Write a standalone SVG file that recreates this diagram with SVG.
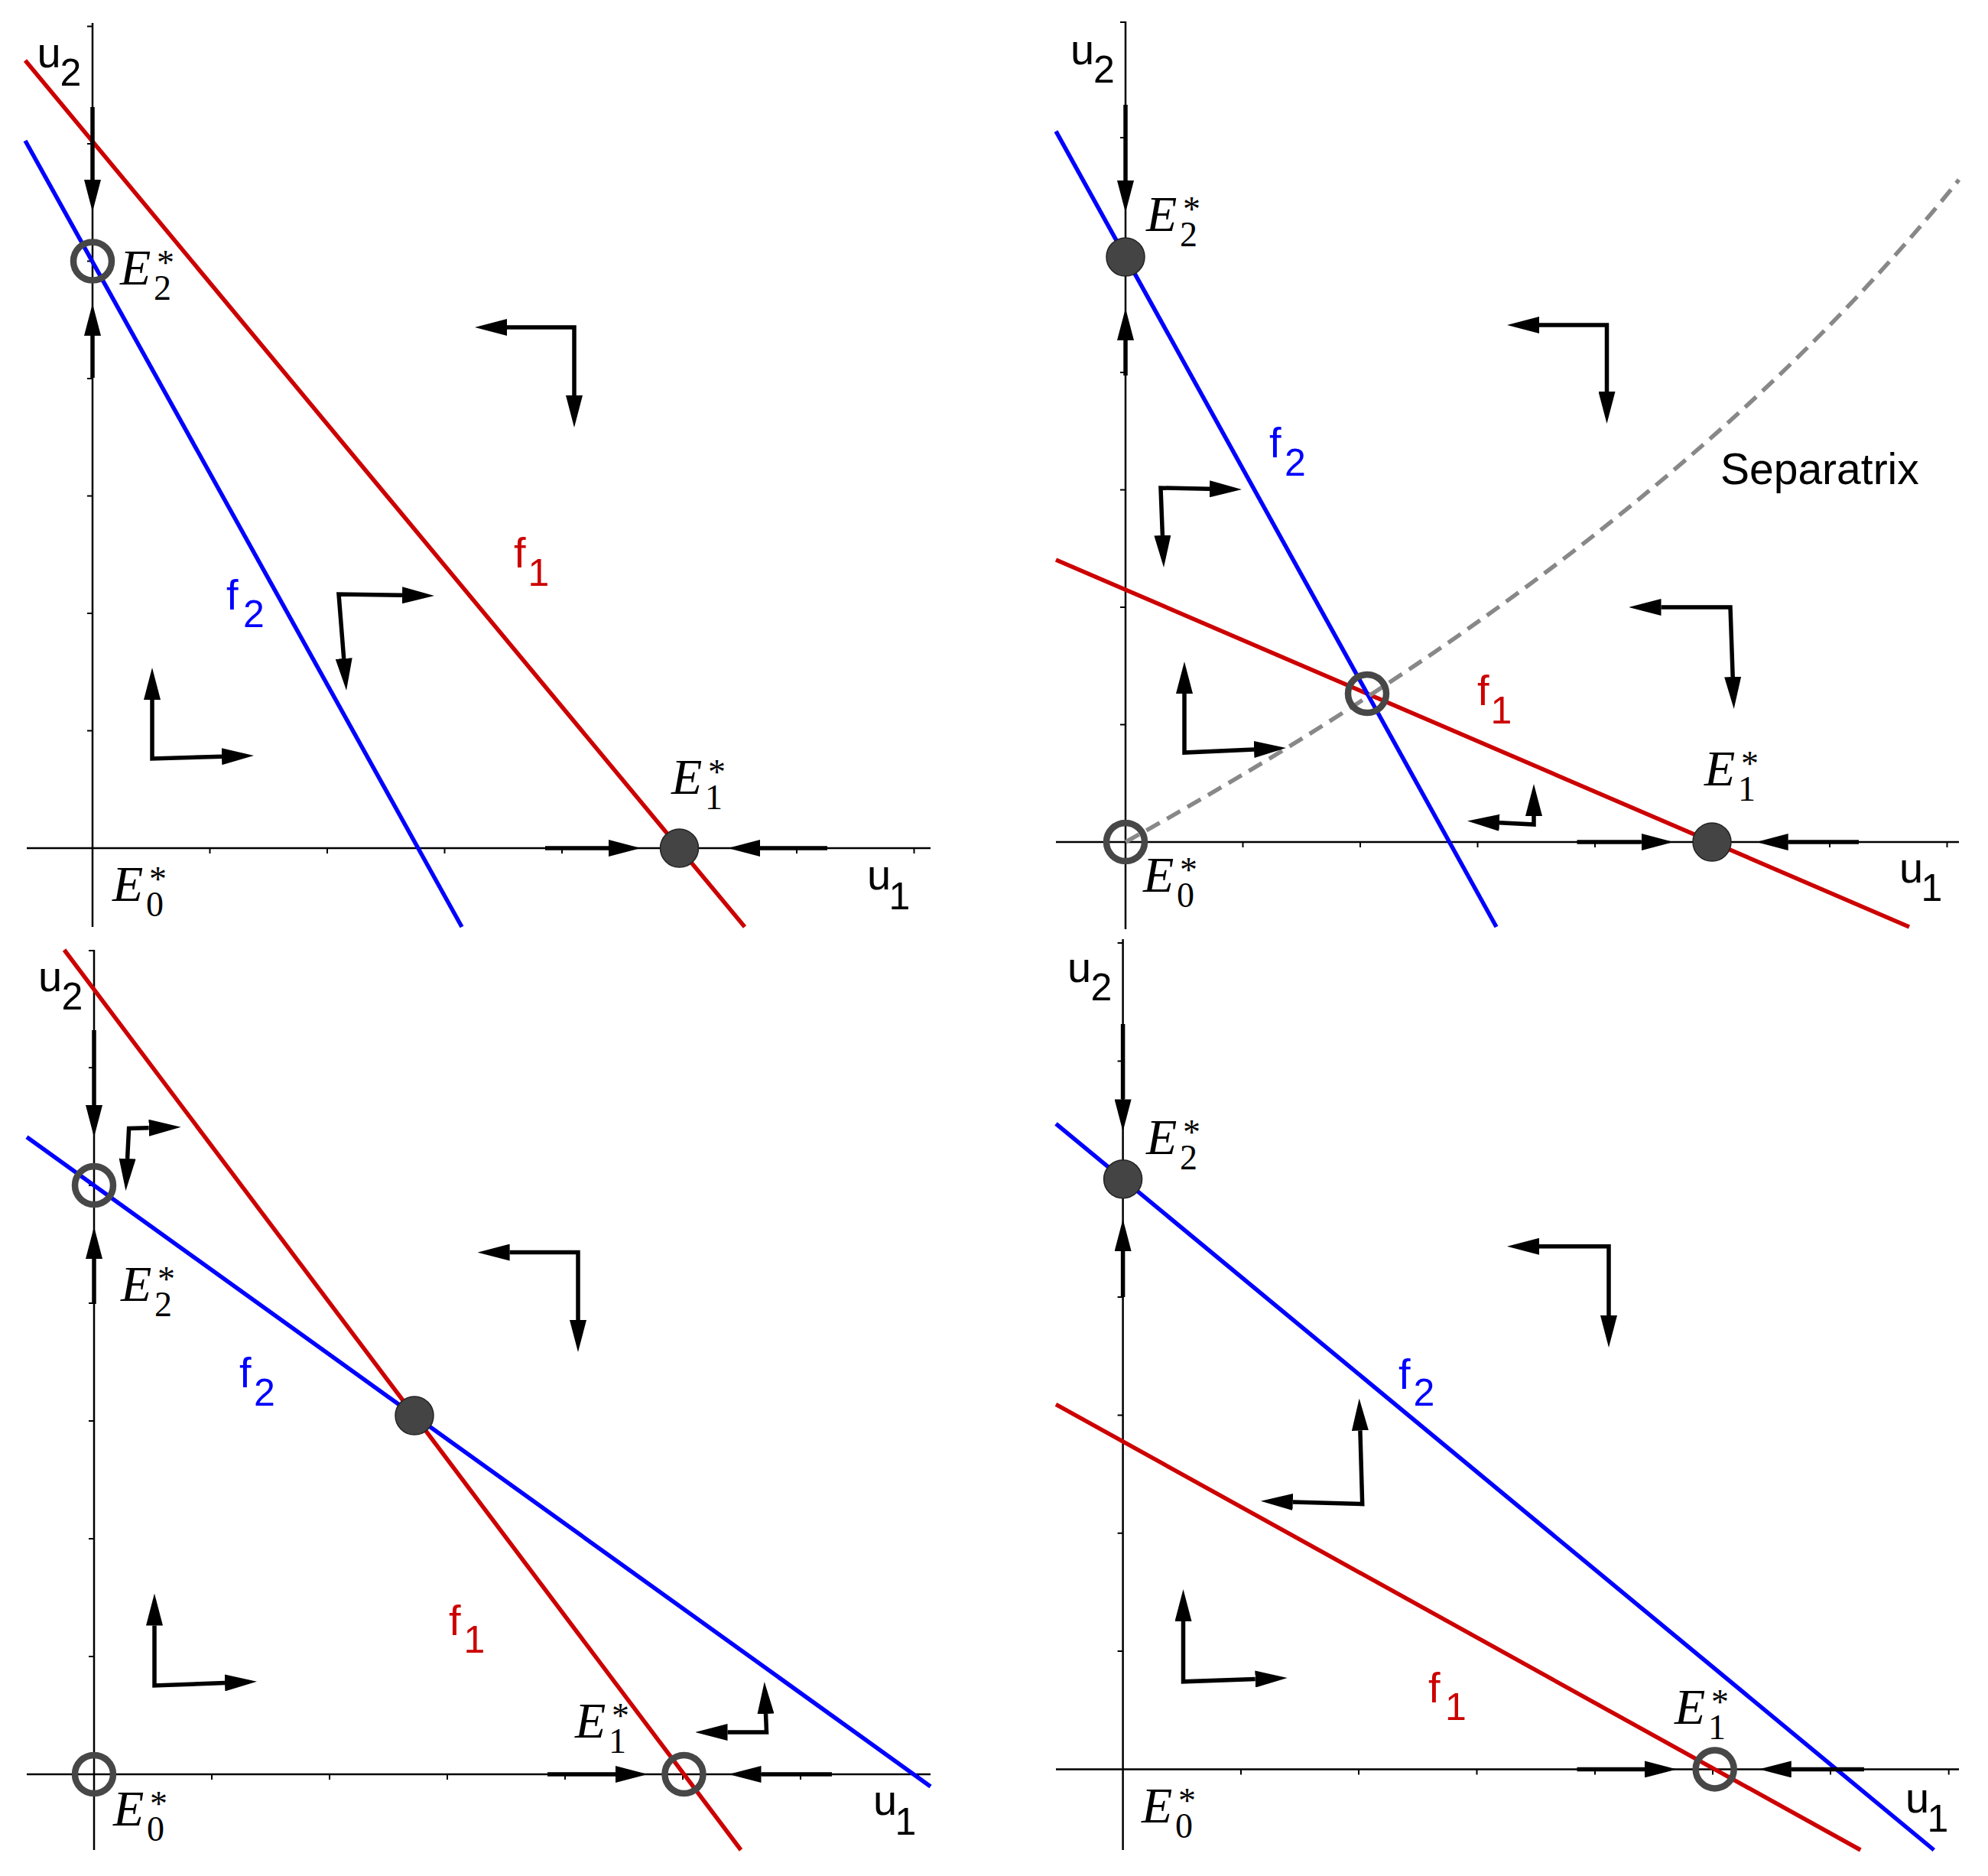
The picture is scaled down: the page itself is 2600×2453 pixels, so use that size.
<svg xmlns="http://www.w3.org/2000/svg" width="2600" height="2453" viewBox="0 0 2600 2453">
<style>
.ax{stroke:#000;stroke-width:2.5;fill:none}
.tk{stroke:#000;stroke-width:2;fill:none}
.f1{stroke:#cc0000;stroke-width:5.5;fill:none}
.f2{stroke:#0000ff;stroke-width:5.5;fill:none}
.sep{stroke:#888;stroke-width:5.5;fill:none;stroke-dasharray:20 11}
.ar{stroke:#000;stroke-width:5.5;fill:none;stroke-linejoin:miter;marker-end:url(#ah)}
.ar2{stroke:#000;stroke-width:5.5;fill:none;stroke-linejoin:miter;marker-start:url(#ah);marker-end:url(#ah)}
.st{fill:#444;stroke:#222;stroke-width:1.5}
.un{fill:none;stroke:#474747;stroke-width:8.5}
.lab{font-family:"Liberation Sans",Arial,sans-serif;font-size:56px}
.sub{font-size:50px}
.E{font-family:"Liberation Serif","Times New Roman",serif;font-style:italic;font-size:66px}
.es{font-style:normal;font-size:46px}
.red{fill:#cc0000}
.blue{fill:#0000ff}
</style>
<defs>
<marker id="ah" viewBox="0 -11 42 22" refX="0" refY="0" markerWidth="42" markerHeight="22" markerUnits="userSpaceOnUse" orient="auto-start-reverse"><path d="M0,-11 L42,0 L0,11 Z" fill="#000"/></marker>
</defs>
<rect width="2600" height="2453" fill="#fff"/>

<!-- Panel 1 (top-left) -->
<g id="panel1">
<g id="p1-axes">
<path class="ax" d="M121,30 V1212 M35,1109 H1217"/>
<path class="tk" d="M274.5,1109v7M428,1109v7M581.5,1109v7M735,1109v7M888.5,1109v7M1042,1109v7M1195.5,1109v7M121,955.5h-7M121,802h-7M121,648.5h-7M121,495h-7M121,341.5h-7M121,188h-7M121,34.5h-7"/>
</g>
<g id="p1-curves">
<path class="f1" d="M33,79 L974,1212"/>
<path class="f2" d="M33,184 L604,1212"/>
</g>
<g id="p1-connectors">
<path class="ar" d="M121,140 L121,235"/>
<path class="ar" d="M121,494 L121,439"/>
<path class="ar" d="M713,1109 L796,1109"/>
<path class="ar" d="M1082,1109 L994,1109"/>
<path class="ar2" d="M663,428 L751,428 L751,517"/>
<path class="ar2" d="M449.7,861 L443,777 L526,778.3"/>
<path class="ar2" d="M199,915 L199,992 L290,989.2"/>
</g>
<g id="p1-E2"><circle class="un" cx="121" cy="341.5" r="25"/></g>
<g id="p1-E1"><circle class="st" cx="888.5" cy="1109" r="25"/></g>
<g id="p1-labels">
<text class="lab" x="48.5" y="88">u<tspan class="sub" x="78.5" y="112">2</tspan></text>
<text class="lab" x="1134" y="1163">u<tspan class="sub" x="1162.5" y="1189">1</tspan></text>
<text class="lab red" x="672" y="742">f<tspan class="sub" x="690.5" y="766">1</tspan></text>
<text class="lab blue" x="296" y="797">f<tspan class="sub" x="318" y="820">2</tspan></text>
<text class="E" x="157" y="372">E<tspan class="es" x="205" y="359">*</tspan><tspan class="es" x="201" y="392">2</tspan></text>
<text class="E" x="878" y="1038">E<tspan class="es" x="926" y="1025">*</tspan><tspan class="es" x="922" y="1058">1</tspan></text>
<text class="E" x="147" y="1178">E<tspan class="es" x="195" y="1165">*</tspan><tspan class="es" x="191" y="1198">0</tspan></text>
</g>
</g>

<!-- Panel 2 (top-right) -->
<g id="panel2">
<g id="p2-axes">
<path class="ax" d="M1472,28 V1215 M1381,1101 H2562"/>
<path class="tk" d="M1625.5,1101v7M1779,1101v7M1932.5,1101v7M2086,1101v7M2239.5,1101v7M2393,1101v7M2546.5,1101v7M1472,947.5h-7M1472,794h-7M1472,640.5h-7M1472,487h-7M1472,333.5h-7M1472,180h-7M1472,29h-7"/>
</g>
<g id="p2-curves">
<path class="f1" d="M1381,732 L2497,1212"/>
<path class="f2" d="M1381,171.6 L1957,1212"/>
<path class="sep" d="M1472,1101 Q2185,706 2562,235"/>
</g>
<g id="p2-connectors">
<path class="ar" d="M1472,137 L1472,236"/>
<path class="ar" d="M1472,491 L1472,445"/>
<path class="ar" d="M2062.5,1101 L2146.7,1101"/>
<path class="ar" d="M2431,1101 L2338.7,1101"/>
<path class="ar2" d="M2013,425 L2101.5,425 L2101.5,512"/>
<path class="ar2" d="M1582,639.2 L1518,638 L1520.4,700"/>
<path class="ar2" d="M2172.5,794 L2263,794 L2266.2,885"/>
<path class="ar2" d="M1549,907 L1549,984 L1640,979.9"/>
<path class="ar2" d="M2006,1067 L2006,1078 L1961,1075.7"/>
</g>
<g id="p2-E2"><circle class="st" cx="1472" cy="336" r="25"/></g>
<g id="p2-E0"><circle class="un" cx="1472" cy="1101" r="25"/></g>
<g id="p2-Es"><circle class="un" cx="1788" cy="907" r="25"/></g>
<g id="p2-E1"><circle class="st" cx="2239" cy="1101" r="25"/></g>
<g id="p2-labels">
<text class="lab" x="1400" y="84">u<tspan class="sub" x="1430" y="108">2</tspan></text>
<text class="lab" x="2484" y="1154">u<tspan class="sub" x="2512.5" y="1178">1</tspan></text>
<text class="lab blue" x="1660" y="598">f<tspan class="sub" x="1680" y="622">2</tspan></text>
<text class="lab red" x="1932" y="922">f<tspan class="sub" x="1949.5" y="946">1</tspan></text>
<text class="lab" x="2250" y="633" style="font-size:57px">Separatrix</text>
<text class="E" x="1499" y="302">E<tspan class="es" x="1547" y="289">*</tspan><tspan class="es" x="1543" y="322">2</tspan></text>
<text class="E" x="2229" y="1027">E<tspan class="es" x="2277" y="1014">*</tspan><tspan class="es" x="2273" y="1047">1</tspan></text>
<text class="E" x="1495" y="1166">E<tspan class="es" x="1543" y="1153">*</tspan><tspan class="es" x="1539" y="1186">0</tspan></text>
</g>
</g>

<!-- Panel 3 (bottom-left) -->
<g id="panel3">
<g id="p3-axes">
<path class="ax" d="M123,1242 V2419 M35,2320 H1217"/>
<path class="tk" d="M277,2320v7M431,2320v7M585,2320v7M739,2320v7M893,2320v7M1047,2320v7M1201,2320v7M123,2166h-7M123,2012h-7M123,1858h-7M123,1704h-7M123,1550h-7M123,1396h-7M123,1243h-7"/>
</g>
<g id="p3-curves">
<path class="f1" d="M84,1242 L969,2419"/>
<path class="f2" d="M35,1486.8 L1217,2335.9"/>
</g>
<g id="p3-connectors">
<path class="ar" d="M123,1347 L123,1445"/>
<path class="ar" d="M123,1705 L123,1646"/>
<path class="ar" d="M716,2320 L805,2320"/>
<path class="ar" d="M1088,2320 L995.5,2320"/>
<path class="ar2" d="M194.7,1474.8 L168.6,1475.5 L166.6,1515"/>
<path class="ar2" d="M666.6,1637.6 L756,1637.6 L756,1726"/>
<path class="ar2" d="M202,2125.5 L202,2204 L294,2200.4"/>
<path class="ar2" d="M1001.5,2241 L1002.5,2265 L951.5,2265"/>
</g>
<g id="p3-E2"><circle class="un" cx="123" cy="1550" r="25"/></g>
<g id="p3-E0"><circle class="un" cx="123" cy="2320" r="25"/></g>
<g id="p3-Ec"><circle class="st" cx="542" cy="1851" r="25"/></g>
<g id="p3-E1"><circle class="un" cx="894.5" cy="2320" r="25"/></g>
<g id="p3-labels">
<text class="lab" x="50" y="1296">u<tspan class="sub" x="80.5" y="1320">2</tspan></text>
<text class="lab" x="1142" y="2373">u<tspan class="sub" x="1170.5" y="2399">1</tspan></text>
<text class="lab blue" x="313" y="1814">f<tspan class="sub" x="332" y="1838">2</tspan></text>
<text class="lab red" x="587" y="2138">f<tspan class="sub" x="606.5" y="2161">1</tspan></text>
<text class="E" x="158" y="1701">E<tspan class="es" x="206" y="1688">*</tspan><tspan class="es" x="202" y="1721">2</tspan></text>
<text class="E" x="752" y="2272">E<tspan class="es" x="800" y="2259">*</tspan><tspan class="es" x="796" y="2292">1</tspan></text>
<text class="E" x="148" y="2387">E<tspan class="es" x="196" y="2374">*</tspan><tspan class="es" x="192" y="2407">0</tspan></text>
</g>
</g>

<!-- Panel 4 (bottom-right) -->
<g id="panel4">
<g id="p4-axes">
<path class="ax" d="M1468.6,1228 V2419 M1381,2313.4 H2562"/>
<path class="tk" d="M1623,2313.4v7M1777,2313.4v7M1931.5,2313.4v7M2086,2313.4v7M2240,2313.4v7M2394,2313.4v7M2548.7,2313.4v7M1468.6,2159h-7M1468.6,2004.8h-7M1468.6,1850.5h-7M1468.6,1696h-7M1468.6,1542h-7M1468.6,1387.6h-7M1468.6,1233h-7"/>
</g>
<g id="p4-curves">
<path class="f1" d="M1381,1836.4 L2433.3,2419"/>
<path class="f2" d="M1381,1469.3 L2529.3,2419"/>
</g>
<g id="p4-connectors">
<path class="ar" d="M1468.6,1339 L1468.6,1437.4"/>
<path class="ar" d="M1468.6,1696 L1468.6,1636"/>
<path class="ar" d="M2062.5,2313.4 L2151,2313.4"/>
<path class="ar" d="M2437.9,2313.4 L2342.8,2313.4"/>
<path class="ar2" d="M2013,1629.8 L2104,1629.8 L2104,1720"/>
<path class="ar2" d="M1778.9,1870.6 L1781.7,1966.6 L1690.8,1963.9"/>
<path class="ar2" d="M1547.5,2120 L1547.5,2198.8 L1641.7,2195.5"/>
</g>
<g id="p4-E2"><circle class="st" cx="1468.6" cy="1541.8" r="25"/></g>
<g id="p4-E1"><circle class="un" cx="2242.7" cy="2313.4" r="25"/></g>
<g id="p4-labels">
<text class="lab" x="1396" y="1284">u<tspan class="sub" x="1426.5" y="1308">2</tspan></text>
<text class="lab" x="2492" y="2370">u<tspan class="sub" x="2520.5" y="2395">1</tspan></text>
<text class="lab blue" x="1829" y="1816">f<tspan class="sub" x="1848.5" y="1838">2</tspan></text>
<text class="lab red" x="1868" y="2226">f<tspan class="sub" x="1890" y="2249">1</tspan></text>
<text class="E" x="1499" y="1509">E<tspan class="es" x="1547" y="1496">*</tspan><tspan class="es" x="1543" y="1529">2</tspan></text>
<text class="E" x="2190" y="2253.5">E<tspan class="es" x="2238" y="2240.5">*</tspan><tspan class="es" x="2234" y="2273.5">1</tspan></text>
<text class="E" x="1493" y="2382.5">E<tspan class="es" x="1541" y="2369.5">*</tspan><tspan class="es" x="1537" y="2402.5">0</tspan></text>
</g>
</g>
</svg>
